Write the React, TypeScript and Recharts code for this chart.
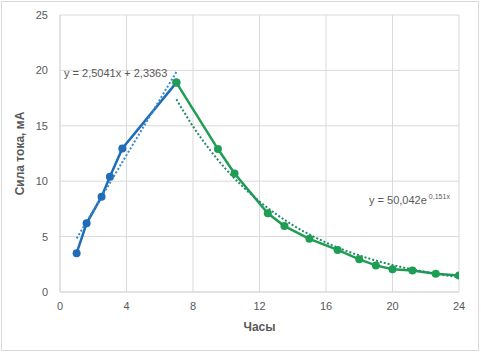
import React from "react";
import {
  ComposedChart,
  Line,
  XAxis,
  YAxis,
  CartesianGrid,
  ReferenceDot,
  Label,
} from "recharts";

// Measured data (hours -> current, mA)
const riseX = [1, 1.6, 2.5, 3, 3.75, 7];
const riseY = [3.5, 6.2, 8.6, 10.4, 12.95, 18.9];
const fallX = [7, 9.5, 10.5, 12.5, 13.5, 15, 16.7, 18, 19, 20, 21.2, 22.6, 24];
const fallY = [18.9, 12.9, 10.7, 7.1, 5.95, 4.8, 3.8, 2.95, 2.4, 2.05, 1.95, 1.65, 1.5];

// Trendlines
const linTrendX = [1, 7];
const linTrendY = [4.84, 19.86];
const expTrendX = [7, 8, 9, 10, 11, 12, 13, 14, 15, 16, 17, 18, 19, 20, 21, 22, 23, 24];
const expTrendY = [17.39, 14.95, 12.86, 11.05, 9.5, 8.17, 7.03, 6.04, 5.19, 4.47, 3.84, 3.3, 2.84, 2.44, 2.1, 1.81, 1.55, 1.33];

const xTicks = [0, 4, 8, 12, 16, 20, 24];
const yTicks = [0, 5, 10, 15, 20, 25];

const linEquation = "y = 2,5041x + 2,3363";
const expEquationBase = "y = 50,042e";
const expEquationPow = "0,151x";
const xTitle = "Часы";
const yTitle = "Сила тока, мА";

const zip = (xs: number[], ys: number[]) => xs.map((x, i) => ({ x, y: ys[i] }));

const riseData = zip(riseX, riseY);
const fallData = zip(fallX, fallY);
const linData = zip(linTrendX, linTrendY);
const expData = zip(expTrendX, expTrendY);

const FONT = "'Liberation Sans', Arial, sans-serif";
const TEXT = "#595959";
const GRID = "#d9d9d9";
const BLUE = "#1f6db8";
const BLUE_TREND = "#3a87cc";
const GREEN = "#1e9e52";
const GREEN_TREND = "#23896a";

export default function App() {
  return (
    <div style={{ position: "absolute", left: 0, top: 0, width: 481, height: 353, background: "#fff" }}>
      <div
        style={{
          position: "absolute",
          left: 1,
          top: 1,
          width: 478,
          height: 350,
          border: "1px solid #d9d9d9",
          boxSizing: "border-box",
          pointerEvents: "none",
        }}
      />
      <ComposedChart
        width={481}
        height={353}
        margin={{ top: 15, right: 22, left: 0, bottom: 0 }}
        style={{ fontFamily: FONT }}
      >
        <CartesianGrid stroke={GRID} strokeWidth={1} />
        <XAxis
          type="number"
          dataKey="x"
          domain={[0, 24]}
          ticks={xTicks}
          allowDataOverflow
          height={61}
          tickSize={0}
          tickMargin={10}
          axisLine={{ stroke: GRID }}
          tickLine={false}
          tick={{ fill: TEXT, fontSize: 11, fontFamily: FONT }}
        >
          <Label
            value={xTitle}
            position="insideTop"
            offset={30}
            style={{ fill: TEXT, fontSize: 12, fontWeight: "bold", fontFamily: FONT }}
          />
        </XAxis>
        <YAxis
          type="number"
          domain={[0, 25]}
          ticks={yTicks}
          width={60}
          tickSize={0}
          tickMargin={12}
          axisLine={{ stroke: GRID }}
          tickLine={false}
          tick={{ fill: TEXT, fontSize: 11, fontFamily: FONT }}
        >
          <Label
            value={yTitle}
            angle={-90}
            position="insideLeft"
            offset={20}
            style={{ fill: TEXT, fontSize: 12, fontWeight: "bold", fontFamily: FONT, textAnchor: "middle" }}
          />
        </YAxis>
        <Line
          data={riseData}
          dataKey="y"
          type="linear"
          stroke={BLUE}
          strokeWidth={2.5}
          dot={{ r: 4, fill: BLUE, stroke: BLUE, strokeWidth: 0 }}
          activeDot={false}
          isAnimationActive={false}
        />
        <Line
          data={fallData}
          dataKey="y"
          type="linear"
          stroke={GREEN}
          strokeWidth={2.5}
          dot={{ r: 4, fill: GREEN, stroke: GREEN, strokeWidth: 0 }}
          activeDot={false}
          isAnimationActive={false}
        />
        <Line
          data={linData}
          dataKey="y"
          type="linear"
          stroke={BLUE_TREND}
          strokeWidth={2}
          strokeDasharray="2 2"
          dot={false}
          activeDot={false}
          isAnimationActive={false}
        />
        <Line
          data={expData}
          dataKey="y"
          type="monotone"
          stroke={GREEN_TREND}
          strokeWidth={2}
          strokeDasharray="2 2"
          dot={false}
          activeDot={false}
          isAnimationActive={false}
        />
        <ReferenceDot x={0.24} y={19.4} r={0} fill="none" stroke="none" ifOverflow="visible">
          <Label
            content={(p: any) => (
              <text x={p.viewBox.x} y={p.viewBox.y} fill={TEXT} fontSize={11} fontFamily={FONT}>
                {linEquation}
              </text>
            )}
          />
        </ReferenceDot>
        <ReferenceDot x={18.59} y={7.94} r={0} fill="none" stroke="none" ifOverflow="visible">
          <Label
            content={(p: any) => (
              <text x={p.viewBox.x} y={p.viewBox.y} fill={TEXT} fontSize={11} fontFamily={FONT}>
                <tspan>{expEquationBase}</tspan>
                <tspan dx={2} dy={-5} fontSize={7}>
                  {expEquationPow}
                </tspan>
              </text>
            )}
          />
        </ReferenceDot>
      </ComposedChart>
    </div>
  );
}
